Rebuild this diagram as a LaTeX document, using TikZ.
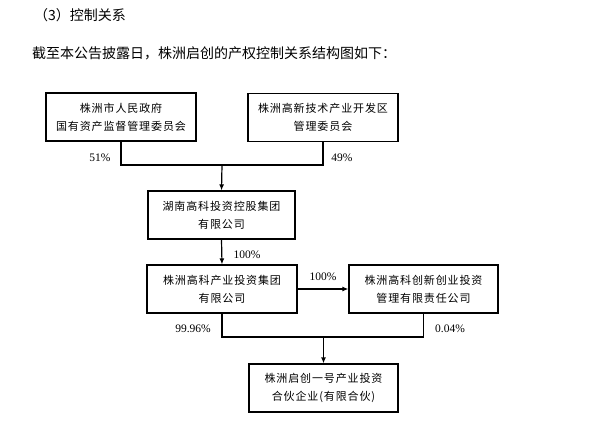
\documentclass[tikz,border=0pt]{standalone}
\usepackage{fontspec}
\newfontfamily\cjk{Noto Sans CJK SC}
\newfontfamily\cjkbox[LetterSpace=8]{Noto Sans CJK SC}
\newfontfamily\serifnum{Liberation Serif}
\usetikzlibrary{arrows.meta}
\begin{document}
\begin{tikzpicture}[x=1pt,y=-1pt,
  entity/.style={draw,line width=1.2pt,minimum width=150pt,minimum height=48pt,align=center,inner sep=0pt,font=\cjkbox\fontsize{11}{18}\selectfont},
  link/.style={line width=1.2pt},
  flow/.style={line width=1.2pt,-{Latex[length=6pt,width=5pt]}},
  pct/.style={font=\serifnum\fontsize{11.5}{13}\selectfont,inner sep=0pt},
  heading/.style={anchor=west,inner sep=0pt,font=\cjk\fontsize{14}{16}\selectfont}]
\useasboundingbox (0,0) rectangle (600,423);
\node[heading] (t1) at (34,15) {（3）控制关系};
\node[heading] (t2) at (32,53) {截至本公告披露日，株洲启创的产权控制关系结构图如下：};
\node[entity] (A) at (121,117) {株洲市人民政府\\国有资产监督管理委员会};
\node[entity] (B) at (323,117.5) {株洲高新技术产业开发区\\管理委员会};
\node[entity,minimum width=147pt] (C) at (221.5,215) {湖南高科投资控股集团\\有限公司};
\node[entity] (D) at (222,289) {株洲高科产业投资集团\\有限公司};
\node[entity,minimum width=149pt] (E) at (423.5,289) {株洲高科创新创业投资\\管理有限责任公司};
\node[entity,minimum width=149pt] (F) at (323.5,388) {株洲启创一号产业投资\\合伙企业(有限合伙)};
\coordinate (j1) at (222,165);
\coordinate (j2) at (323.5,337);
\draw[link] (A.south) |- (j1);
\draw[link] (B.south) |- (j1);
\draw[flow] (j1) -- (C.north);
\draw[flow] (C.south) -- (D.north);
\draw[flow] (D.east) -- (E.west);
\draw[link] (D.south) |- (j2);
\draw[link] (E.south) |- (j2);
\draw[flow] (j2) -- (F.north);
\node[pct] (p1) at (100,158) {51\%};
\node[pct] (p2) at (342,158) {49\%};
\node[pct] (p3) at (247,255) {100\%};
\node[pct] (p4) at (323,277) {100\%};
\node[pct] (p5) at (193,329) {99.96\%};
\node[pct] (p6) at (450,329) {0.04\%};
\end{tikzpicture}
\end{document}
